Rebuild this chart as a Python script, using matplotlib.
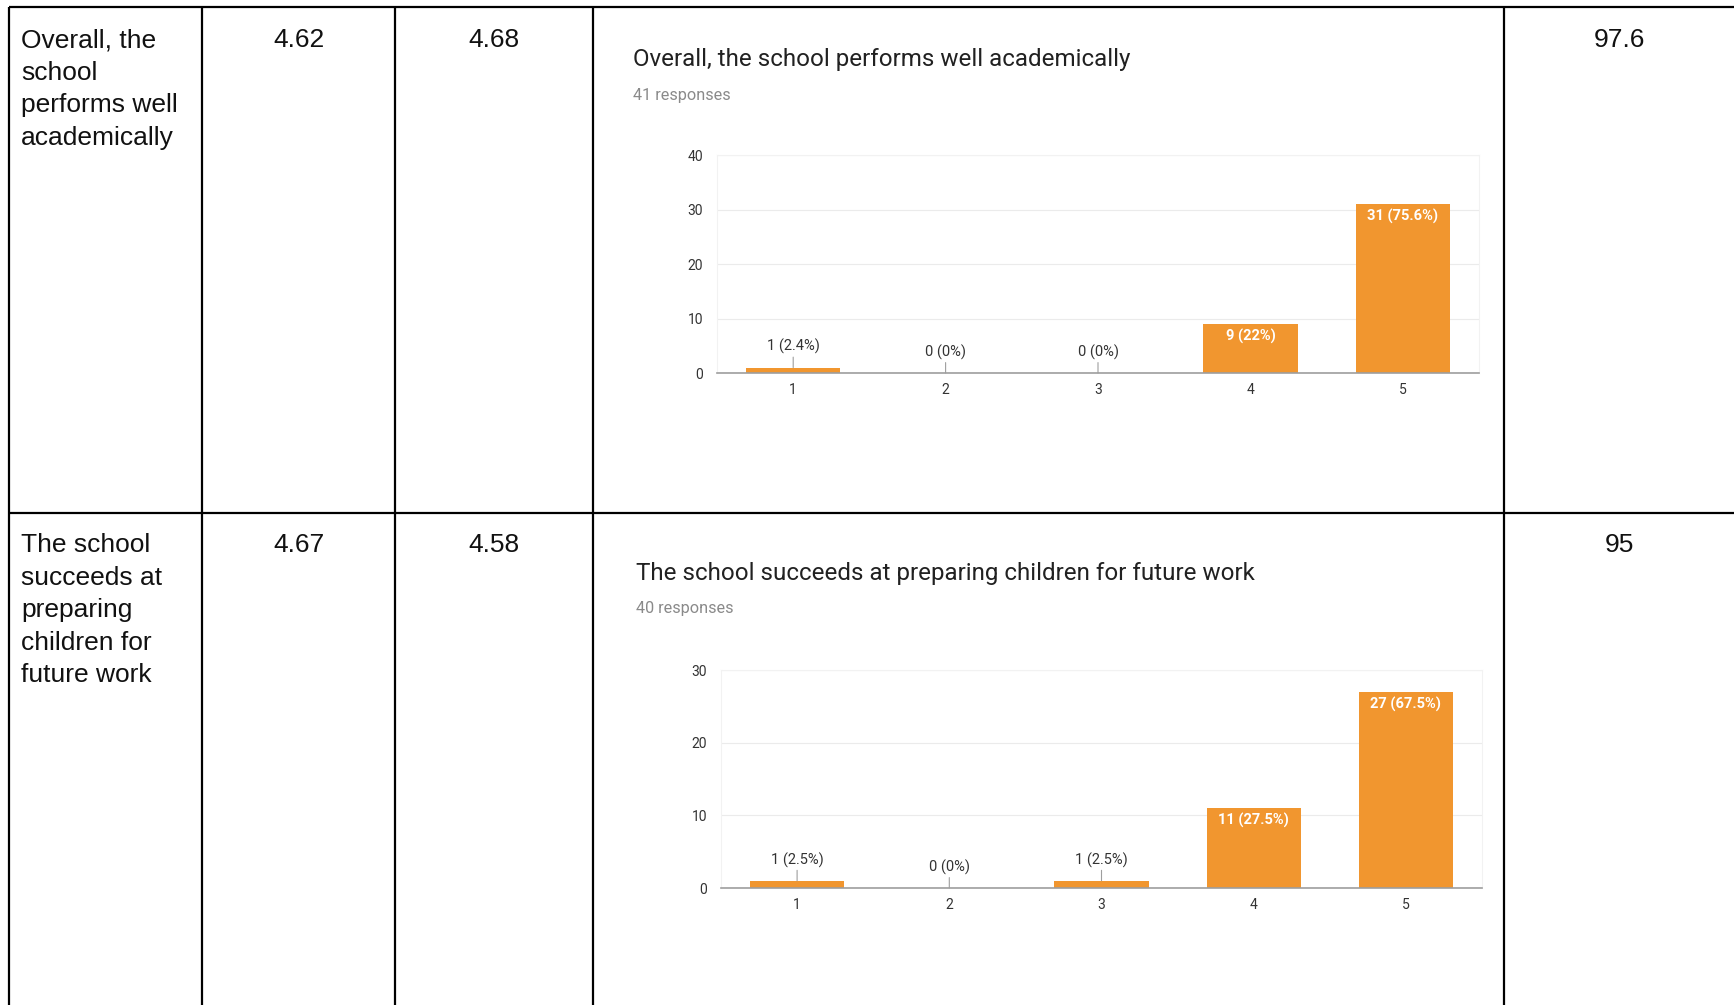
import numpy as np
import matplotlib.pyplot as plt

# table contents
statements = ["Overall, the\nschool\nperforms well\nacademically",
              "The school\nsucceeds at\npreparing\nchildren for\nfuture work"]
score_a = ["4.62", "4.67"]
score_b = ["4.68", "4.58"]
agree_pct = ["97.6", "95"]

# chart contents
chart_titles = ["Overall, the school performs well academically",
                "The school succeeds at preparing children for future work"]
responses = [41, 40]
scale = ["1", "2", "3", "4", "5"]
counts_1 = [1, 0, 0, 9, 31]
counts_2 = [1, 0, 1, 11, 27]
pct_1 = ["2.4%", "0%", "0%", "22%", "75.6%"]
pct_2 = ["2.5%", "0%", "2.5%", "27.5%", "67.5%"]
y_max = [40, 30]

W, H = 1734, 1005
fig = plt.figure(figsize=(W / 100, H / 100), dpi=100)

# background axes in pixel units for the table grid and text
bg = fig.add_axes([0, 0, 1, 1])
bg.set_xlim(0, W)
bg.set_ylim(H, 0)
bg.axis('off')

col_x = [9, 202, 395, 593, 1504]
row_y = [7, 513]
for x in col_x:
    bg.plot([x, x], [row_y[0], H], color='black', lw=1.6, solid_capstyle='butt')
for y in row_y:
    bg.plot([col_x[0], W], [y, y], color='black', lw=1.6, solid_capstyle='butt')

text_top = [28, 533]
cell_font = dict(family='Liberation Sans', fontsize=19, color='#111111')
for i in range(2):
    bg.text(21, text_top[i], statements[i], va='top', ha='left', linespacing=1.45, **cell_font)
    bg.text((col_x[1] + col_x[2]) / 2, text_top[i], score_a[i], va='top', ha='center', **cell_font)
    bg.text((col_x[2] + col_x[3]) / 2, text_top[i], score_b[i], va='top', ha='center', **cell_font)
    bg.text((col_x[4] + W) / 2, text_top[i], agree_pct[i], va='top', ha='center', **cell_font)

# chart layout (pixels): left, top, right, bottom of plot area
plot_boxes = [(717, 155, 1479, 373), (721, 670, 1482, 888)]
title_pos = [(633, 59, 95), (636, 573, 608)]
orange = '#f1962f'
all_counts = [counts_1, counts_2]
all_pct = [pct_1, pct_2]

for i in range(2):
    l, t, r, b = plot_boxes[i]
    ax = fig.add_axes([l / W, 1 - b / H, (r - l) / W, (b - t) / H])
    counts = all_counts[i]
    x = np.arange(len(scale))
    ax.bar(x, counts, width=0.62, color=orange, zorder=3)
    ax.set_xlim(-0.5, len(scale) - 0.5)
    ax.set_ylim(0, y_max[i])
    ax.set_yticks(np.arange(0, y_max[i] + 1, 10))
    ax.set_xticks(x)
    ax.set_xticklabels(scale)
    ax.tick_params(length=0, labelsize=10, colors='#333333', labelfontfamily='Roboto')
    ax.tick_params(axis='y', pad=10)
    ax.tick_params(axis='x', pad=7)
    ax.grid(axis='y', color='#ebebeb', lw=0.8, zorder=0)
    for s in ['top', 'left', 'right']:
        ax.spines[s].set_color('#f2f2f2')
        ax.spines[s].set_linewidth(0.8)
    ax.spines['bottom'].set_color('#9e9e9e')
    ax.spines['bottom'].set_linewidth(1.2)
    ax.spines['bottom'].set_zorder(4)

    for j, c in enumerate(counts):
        label = f"{c} ({all_pct[i][j]})"
        if c >= 5:
            ax.annotate(label, (x[j], c), xytext=(0, -3.5), textcoords='offset points',
                        ha='center', va='top', fontsize=10.5, color='white',
                        fontweight='bold', family='Roboto', zorder=5)
        else:
            ax.annotate(label, (x[j], c), xytext=(0, 9.5), textcoords='offset points',
                        ha='center', va='bottom', fontsize=10.5, color='#333333',
                        family='Roboto', zorder=5,
                        arrowprops=dict(arrowstyle='-', color='#9e9e9e', lw=0.8,
                                        shrinkA=0, shrinkB=0))

    tx, ty, ry = title_pos[i]
    bg.text(tx, ty, chart_titles[i], va='center', ha='left', fontsize=17.4,
            color='#212121', family='Roboto')
    bg.text(tx, ry, f"{responses[i]} responses", va='center', ha='left', fontsize=11.7,
            color='#8a8a8a', family='Roboto')

fig.savefig('out.png', dpi=100)
